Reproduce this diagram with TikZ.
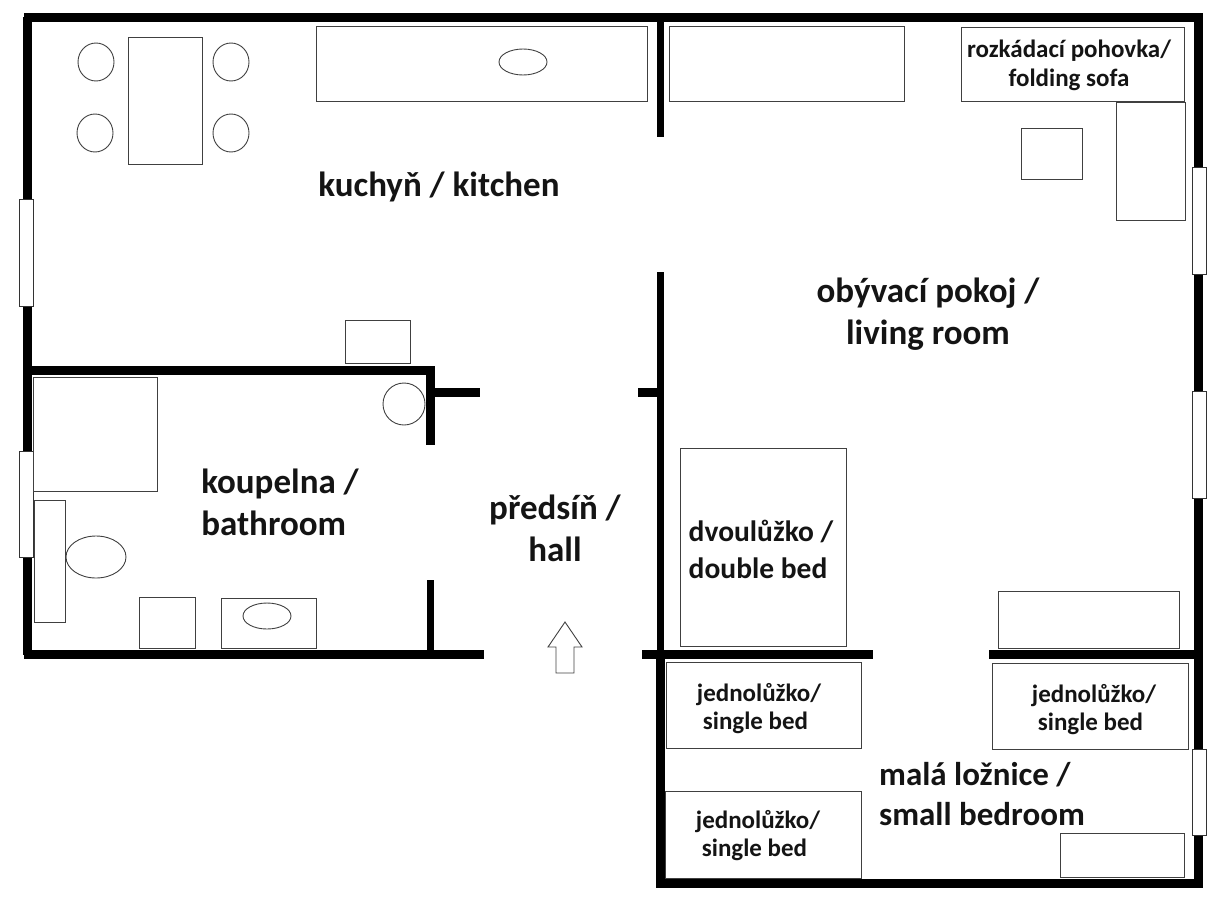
\documentclass[tikz,border=0pt]{standalone}
\usepackage{fontspec}
\setmainfont{Carlito}
\usetikzlibrary{positioning,calc}
\tikzset{
  wall/.style={line width=9pt,black},
  thinwall/.style={line width=7pt,black},
  furniture/.style={draw=black!75,line width=0.9pt},
  window/.style={draw=black!80,fill=white,line width=0.9pt},
  bigtext/.style={text=black!92,font=\bfseries\fontsize{35}{42}\selectfont,align=left,inner sep=0pt},
  midtext/.style={text=black!92,font=\bfseries\fontsize{29.5}{37}\selectfont,align=left,inner sep=0pt},
  smalltext/.style={text=black!92,font=\bfseries\fontsize{25}{28}\selectfont,align=left,inner sep=0pt}
}
\begin{document}
\begin{tikzpicture}[x=1pt,y=-1pt]
    \useasboundingbox (0,0) rectangle (1228,900);

    % Walls
    \draw[wall] (24,17) -- (1203,17);
    \draw[wall] (27,17) -- (27,655);
    \draw[wall] (1198,17) -- (1198,888);
    \draw[wall] (656,883) -- (1203,883);
    \draw[wall] (27,370) -- (435,370);
    \draw[wall] (24,654) -- (484,654);
    \draw[wall] (430,366) -- (430,445);
    \draw[thinwall] (430,580) -- (430,655);
    \draw[wall] (430,392) -- (480,392);
    \draw[wall] (638,392) -- (660,392);
    \draw[thinwall] (660,17) -- (660,137);
    \draw[thinwall] (660,272) -- (660,650);
    \draw[wall] (660,650) -- (660,888);
    \draw[wall] (642,654) -- (873,654);
    \draw[wall] (989,654) -- (1203,654);

    % Windows
    \foreach \x/\ya/\yb in {26/199/306, 26/451/557, 1199/167/274, 1199/391/498, 1199/749/835}
      \draw[window] (\x-7,\ya) rectangle (\x+7,\yb);

    % Kitchen
    \draw[furniture] (128,37) rectangle (202,164);
    \foreach \x/\y in {96/62, 231/62, 95/133, 231/133}
      \draw[furniture] (\x,\y) ellipse (18pt and 19pt);
    \draw[furniture] (316,26) rectangle (647,101);
    \draw[furniture] (523,62) ellipse (24pt and 13pt);
    \draw[furniture] (345,320) rectangle (410,363);

    % Living room
    \draw[furniture] (669,26) rectangle (904,101);
    \draw[furniture] (961,27) rectangle (1184,101);
    \draw[furniture] (1116,102) rectangle (1185,220);
    \draw[furniture] (1021,128) rectangle (1082,179);
    \draw[furniture] (680,448) rectangle (846,646);
    \draw[furniture] (998,591) rectangle (1179,648);

    % Bathroom
    \draw[furniture] (33,377) rectangle (157,491);
    \draw[furniture] (404,404) ellipse (21pt and 21pt);
    \draw[furniture] (34,500) rectangle (65,622);
    \draw[furniture] (96,557) ellipse (30pt and 21pt);
    \draw[furniture] (139,597) rectangle (195,648);
    \draw[furniture] (221,598) rectangle (316,648);
    \draw[furniture] (267,616) ellipse (24pt and 13pt);

    % Small bedroom
    \draw[furniture] (666,662) rectangle (861,748);
    \draw[furniture] (992,663) rectangle (1188,749);
    \draw[furniture] (665,791) rectangle (861,878);
    \draw[furniture] (1060,833) rectangle (1184,877);

    % Entrance
    \draw[furniture] (565,622) -- (582,647) -- (574,647) -- (574,673) -- (556,673)
      -- (556,647) -- (548,647) -- cycle;

    % Labels
    \node[bigtext] (kitchen) at (439,187) {kuchyň / kitchen};
    \node[bigtext,align=center] (living) at (928,314) {obývací pokoj /\\living room};
    \node[bigtext] (bathroom) at (280,502) {koupelna /\\bathroom};
    \node[bigtext,align=center] (hall) at (555,528) {předsíň /\\hall};
    \node[bigtext,font=\bfseries\fontsize{33}{40}\selectfont] (bedroom) at (982,794) {malá ložnice /\\small bedroom};
    \node[midtext] (doublebed) at (761,549) {dvoulůžko /\\double bed};
    \node[smalltext,align=center,font=\bfseries\fontsize{25}{29}\selectfont] (sofa) at (1069,65) {rozkádací pohovka/\\folding sofa};
    \node[smalltext] (singlea) at (759,709) {jednolůžko/\\\hspace*{6pt}single bed};
    \node[smalltext] (singleb) at (1094,710) {jednolůžko/\\\hspace*{6pt}single bed};
    \node[smalltext] (singlec) at (758,836) {jednolůžko/\\\hspace*{6pt}single bed};
\end{tikzpicture}
\end{document}
